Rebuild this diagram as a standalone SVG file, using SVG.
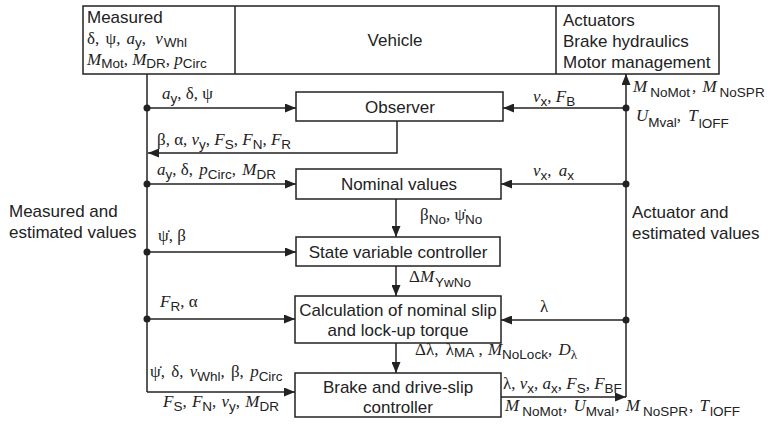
<svg xmlns="http://www.w3.org/2000/svg" width="775" height="426" viewBox="0 0 775 426">
<style>
.bg{fill:#fff}
.box{fill:#fff;stroke:#222;stroke-width:1.5}
.ln{fill:none;stroke:#222;stroke-width:1.5}
.arr{fill:none;stroke:#222;stroke-width:1.5;marker-end:url(#ah)}
.dot{fill:#222}
.t{font-family:"Liberation Sans",Arial,sans-serif;font-size:17px;fill:#222}
.c{text-anchor:middle}
.g{font-family:"Liberation Serif","Times New Roman",serif;font-size:17px;fill:#222}
.m{font-style:italic}
.s{font-family:"Liberation Sans",Arial,sans-serif;font-size:13.5px}
</style>
<defs>
<marker id="ah" markerUnits="userSpaceOnUse" markerWidth="11" markerHeight="9" refX="11" refY="4.5" orient="auto">
<path d="M0,0 L11,4.5 L0,9 z" fill="#222"/>
</marker>
</defs>
<rect class="bg" x="0" y="0" width="775" height="426"/>

<g id="vehicle-system">
<rect class="box" x="83" y="6" width="636" height="68"/>
<line class="ln" x1="235" y1="6" x2="235" y2="74"/>
<line class="ln" x1="556" y1="6" x2="556" y2="74"/>
<text class="t" x="87" y="23">Measured</text>
<text class="g" x="87" y="44" font-size="16">δ, <tspan dx="2">ψ,</tspan><tspan class="m" dx="6">a</tspan><tspan class="s" dy="3">y</tspan><tspan dy="-3">, </tspan><tspan class="m" dx="5">v</tspan><tspan class="s" dx="1" dy="3">Whl</tspan></text>
<text class="g" x="87" y="65" font-size="16"><tspan class="m">M</tspan><tspan class="s" dy="3">Mot</tspan><tspan dy="-3">, </tspan><tspan class="m">M</tspan><tspan class="s" dy="3">DR</tspan><tspan dy="-3">, </tspan><tspan class="m">p</tspan><tspan class="s" dy="3">Circ</tspan></text>
<text class="t c" x="395" y="46">Vehicle</text>
<text class="t" x="563" y="26">Actuators</text>
<text class="t" x="563" y="47">Brake hydraulics</text>
<text class="t" x="563" y="68">Motor management</text>
</g>

<g id="observer">
<rect class="box" x="296" y="92" width="207" height="29"/>
<text class="t c" x="400" y="113">Observer</text>
</g>

<g id="nominal-values">
<rect class="box" x="296" y="169" width="205" height="30"/>
<text class="t c" x="399" y="190">Nominal values</text>
</g>

<g id="state-variable-controller">
<rect class="box" x="296" y="237" width="204" height="29"/>
<text class="t c" x="398" y="258">State variable controller</text>
</g>

<g id="nominal-slip">
<rect class="box" x="295" y="296" width="206" height="47"/>
<text class="t c" x="398" y="316">Calculation of nominal slip</text>
<text class="t c" x="398" y="336">and lock-up torque</text>
</g>

<g id="brake-controller">
<rect class="box" x="295" y="373" width="206" height="44"/>
<text class="t c" x="398" y="393">Brake and drive-slip</text>
<text class="t c" x="398" y="413">controller</text>
</g>

<g id="side-labels">
<text class="t" x="9" y="217">Measured and</text>
<text class="t" x="9" y="238">estimated values</text>
<text class="t" x="632" y="218">Actuator and</text>
<text class="t" x="632" y="239">estimated values</text>
</g>

<g id="connectors">
<path class="ln" d="M147,74 V392"/>
<path class="arr" d="M147,392 H295"/>
<path class="arr" d="M147,108 H296"/>
<path class="arr" d="M147,184 H296"/>
<path class="arr" d="M147,252 H296"/>
<path class="arr" d="M147,319 H295"/>
<path class="arr" d="M397,121 V153 H148"/>
<circle class="dot" cx="147" cy="108" r="3.5"/>
<circle class="dot" cx="147" cy="184" r="3.5"/>
<circle class="dot" cx="147" cy="252" r="3.5"/>
<circle class="dot" cx="147" cy="319" r="3.5"/>

<path class="arr" d="M626,397 V74"/>
<path class="arr" d="M501,397 H626"/>
<path class="arr" d="M626,108 H503"/>
<path class="arr" d="M626,184 H501"/>
<path class="arr" d="M626,320 H501"/>
<circle class="dot" cx="626" cy="108" r="3.5"/>
<circle class="dot" cx="626" cy="184" r="3.5"/>
<circle class="dot" cx="626" cy="320" r="3.5"/>

<path class="arr" d="M396,199 V237"/>
<path class="arr" d="M396,266 V296"/>
<path class="arr" d="M396,343 V373"/>

<text class="g" x="162" y="99"><tspan class="m">a</tspan><tspan class="s" dy="4">y</tspan><tspan dy="-4">, δ, ψ</tspan></text>
<text class="g" x="157" y="145">β, α, <tspan class="m">v</tspan><tspan class="s" dy="4">y</tspan><tspan dy="-4">, </tspan><tspan class="m">F</tspan><tspan class="s" dy="4">S</tspan><tspan dy="-4">, </tspan><tspan class="m">F</tspan><tspan class="s" dy="4">N</tspan><tspan dy="-4">, </tspan><tspan class="m">F</tspan><tspan class="s" dy="4">R</tspan></text>
<text class="g" x="157" y="175"><tspan class="m">a</tspan><tspan class="s" dy="4">y</tspan><tspan dy="-4">, δ, </tspan><tspan class="m" dx="2">p</tspan><tspan class="s" dy="4">Circ</tspan><tspan dy="-4">, </tspan><tspan class="m" dx="2">M</tspan><tspan class="s" dy="4">DR</tspan></text>
<text class="g" x="158" y="241">ψ̇, β</text>
<text class="g" x="160" y="307"><tspan class="m">F</tspan><tspan class="s" dy="4">R</tspan><tspan dy="-4">, α</tspan></text>
<text class="g" x="150" y="377">ψ̇, <tspan dx="2">δ, </tspan><tspan class="m" dx="2">v</tspan><tspan class="s" dy="4">Whl</tspan><tspan dy="-4">, </tspan><tspan dx="2">β, </tspan><tspan class="m" dx="2">p</tspan><tspan class="s" dy="4">Circ</tspan></text>
<text class="g" x="163" y="407"><tspan class="m">F</tspan><tspan class="s" dy="4">S</tspan><tspan dy="-4">, </tspan><tspan class="m" dx="1">F</tspan><tspan class="s" dy="4">N</tspan><tspan dy="-4">, </tspan><tspan class="m" dx="1">v</tspan><tspan class="s" dy="4">y</tspan><tspan dy="-4">, </tspan><tspan class="m" dx="1">M</tspan><tspan class="s" dy="4">DR</tspan></text>

<text class="g" x="533" y="102"><tspan class="m">v</tspan><tspan class="s" dy="4">x</tspan><tspan dy="-4">, </tspan><tspan class="m">F</tspan><tspan class="s" dy="4">B</tspan></text>
<text class="g" x="633" y="92"><tspan class="m">M</tspan><tspan class="s" dx="3" dy="5">NoMot</tspan><tspan dx="2" dy="-5">, </tspan><tspan class="m" dx="2">M</tspan><tspan class="s" dx="3" dy="5">NoSPR</tspan></text>
<text class="g" x="636" y="121"><tspan class="m">U</tspan><tspan class="s" dy="6">Mval</tspan><tspan dy="-6">, </tspan><tspan class="m" dx="3">T</tspan><tspan class="s" dx="1" dy="7">lOFF</tspan></text>
<text class="g" x="533" y="176"><tspan class="m">v</tspan><tspan class="s" dy="4">x</tspan><tspan dy="-4">, </tspan><tspan class="m" dx="3">a</tspan><tspan class="s" dy="4">x</tspan></text>
<text class="g" x="420" y="220">β<tspan class="s" dy="4">No</tspan><tspan dy="-4">, ψ̇</tspan><tspan class="s" dy="4">No</tspan></text>
<text class="g" x="409" y="282">Δ<tspan class="m">M</tspan><tspan class="s" dx="1" dy="5">YwNo</tspan></text>
<text class="g" x="540" y="312">λ</text>
<text class="g" x="415" y="355">Δλ, <tspan dx="3">λ</tspan><tspan class="s" dy="2">MA</tspan><tspan dy="-2"> , </tspan><tspan class="m" dx="1">M</tspan><tspan class="s" dy="4">NoLock</tspan><tspan dy="-4">, </tspan><tspan class="m" dx="2">D</tspan><tspan dy="4" font-size="13">λ</tspan></text>
<text class="g" x="503" y="389">λ, <tspan class="m">v</tspan><tspan class="s" dy="4">x</tspan><tspan dy="-4">, </tspan><tspan class="m">a</tspan><tspan class="s" dy="4">x</tspan><tspan dy="-4">, </tspan><tspan class="m">F</tspan><tspan class="s" dy="4">S</tspan><tspan dy="-4">, </tspan><tspan class="m">F</tspan><tspan class="s" dy="4">BF</tspan></text>
<text class="g" x="505" y="411"><tspan class="m">M</tspan><tspan class="s" dx="3" dy="5">NoMot</tspan><tspan dx="1" dy="-5">, </tspan><tspan class="m" dx="2">U</tspan><tspan class="s" dy="5">Mval</tspan><tspan dx="1" dy="-5">, </tspan><tspan class="m" dx="2">M</tspan><tspan class="s" dx="3" dy="5">NoSPR</tspan><tspan dx="1" dy="-5">, </tspan><tspan class="m" dx="2">T</tspan><tspan class="s" dx="1" dy="5">lOFF</tspan></text>
</g>
</svg>
